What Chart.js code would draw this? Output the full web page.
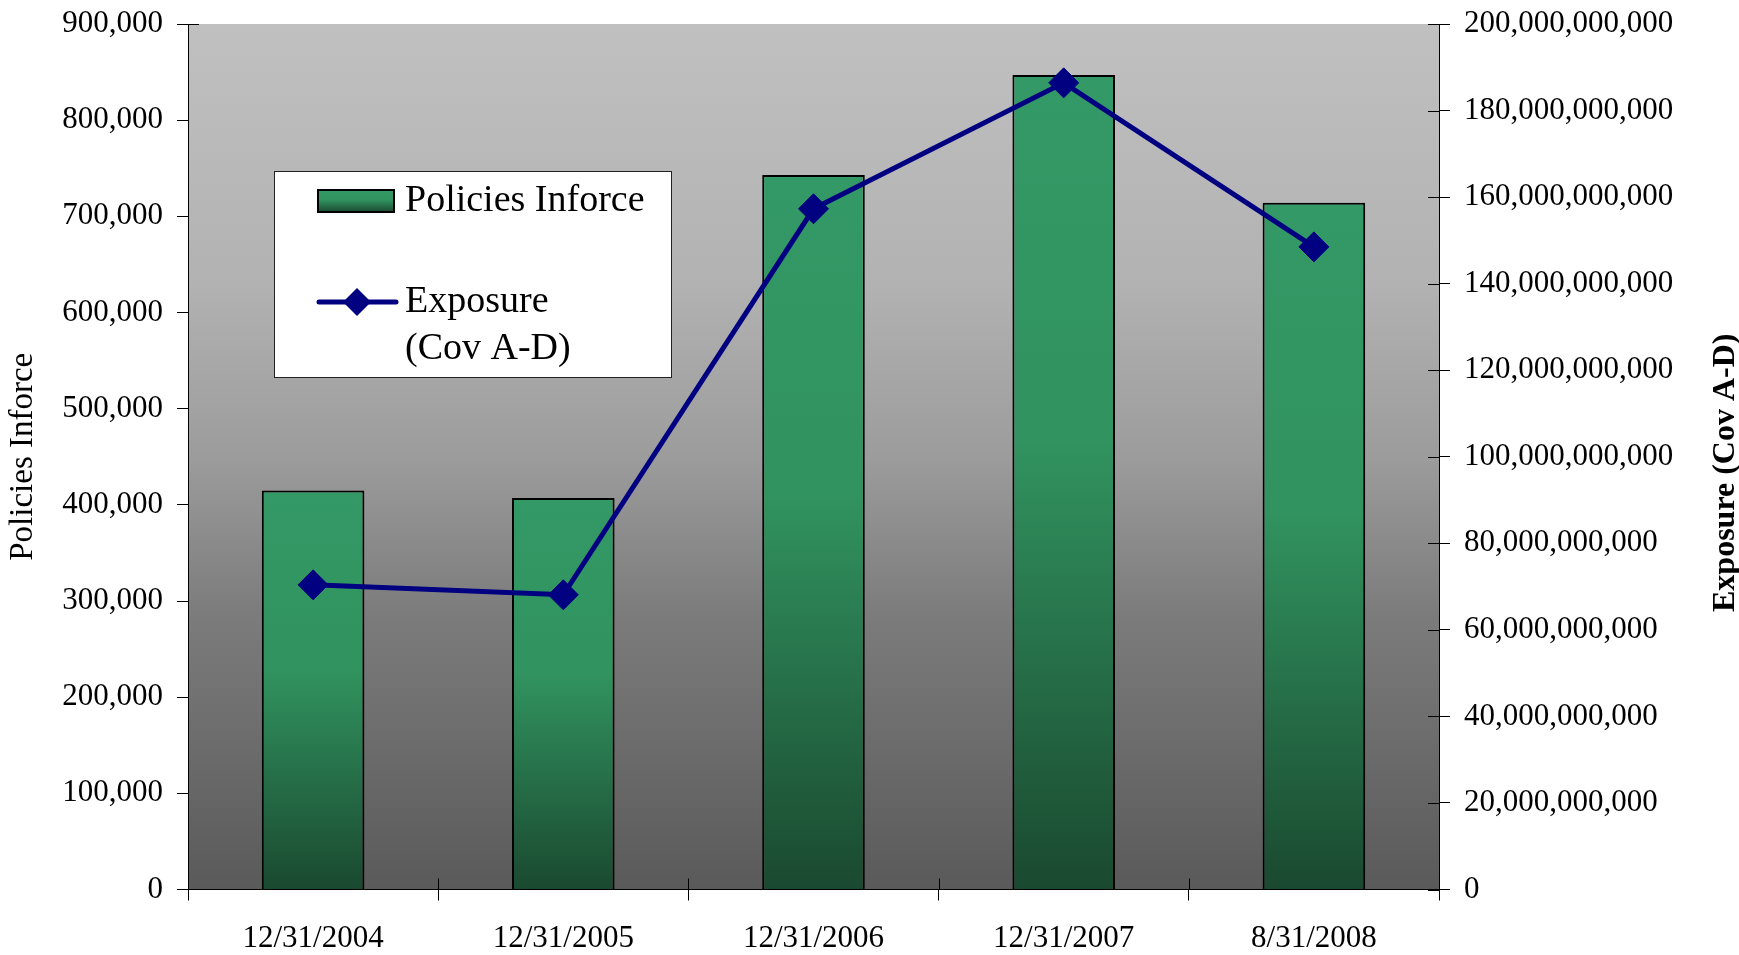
<!DOCTYPE html>
<html>
<head>
<meta charset="utf-8">
<title>Policies Inforce and Exposure</title>
<script src="https://cdn.jsdelivr.net/npm/chart.js@4.4.0/dist/chart.umd.min.js"></script>
<style>
  html, body { margin: 0; padding: 0; background: #ffffff; }
  canvas { display: block; }
</style>
</head>
<body>
<canvas id="policyChart" width="1739" height="955"></canvas>
<script>
// reporting dates
const periods = ['12/31/2004', '12/31/2005', '12/31/2006', '12/31/2007', '8/31/2008'];
// number of policies in force (left axis)
const policiesInforce = [415000, 407000, 743000, 847000, 714000];
// total exposure, Cov A-D, in dollars (right axis)
const exposureCovAD = [70.4e9, 68.1e9, 157.3e9, 186.4e9, 148.5e9];

const POLICIES_LABEL = 'Policies Inforce';
const EXPOSURE_LABEL = 'Exposure (Cov A-D)';

const SERIF = 'Liberation Serif, Times New Roman, serif';
const BAR_TOP = '#339966';
const BAR_BOTTOM = '#1a4930';
const LINE_COLOR = '#000080';

function fillGreen(ctx, top, bottom) {
    var g = ctx.createLinearGradient(0, top, 0, bottom);
    g.addColorStop(0, BAR_TOP);
    g.addColorStop(0.45, '#31935f');
    g.addColorStop(1, BAR_BOTTOM);
    return g;
}

// each bar gets its own top-to-bottom shading
function barFill(context) {
    var chart = context.chart;
    if (!chart.chartArea || context.type !== 'data') {
        return BAR_TOP;
    }
    var y = chart.scales.y;
    return fillGreen(chart.ctx, y.getPixelForValue(context.raw), y.getPixelForValue(0));
}

// keep the plot area where the fixed axis widths put it
function fixAxisWidth(width) {
    return function (scale) {
        scale.width = width;
        scale.paddingTop = 0;
        scale.paddingBottom = 0;
    };
}

var plotBackground = {
    id: 'plotBackground',
    beforeDraw: function (chart) {
        var ctx = chart.ctx, a = chart.chartArea;
        var g = ctx.createLinearGradient(0, a.top, 0, a.bottom);
        g.addColorStop(0, '#c0c0c0');
        g.addColorStop(0.3, '#b2b2b2');
        g.addColorStop(0.5, '#9c9c9c');
        g.addColorStop(0.68, '#7c7c7c');
        g.addColorStop(1, '#5a5a5a');
        ctx.save();
        ctx.fillStyle = g;
        ctx.fillRect(a.left, a.top, a.width, a.height);
        ctx.restore();
    }
};

// tick marks that also reach into the plot (x axis and right axis)
var innerTicks = {
    id: 'innerTicks',
    afterDraw: function (chart) {
        var ctx = chart.ctx, x = chart.scales.x, y = chart.scales.y, y2 = chart.scales.y2;
        var len = 11;
        ctx.save();
        ctx.strokeStyle = '#000';
        ctx.lineWidth = 1;
        ctx.beginPath();
        for (var i = 0; i <= periods.length; i++) {
            var px = Math.round(x.getPixelForValue(i - 0.5)) + 0.5;
            ctx.moveTo(px, x.top);
            ctx.lineTo(px, x.top - len);
        }
        y2.ticks.forEach(function (t) {
            var py = Math.round(y2.getPixelForValue(t.value)) + 0.5;
            ctx.moveTo(y2.left, py);
            ctx.lineTo(y2.left - len, py);
        });
        var topY = Math.round(y.getPixelForValue(y.max)) + 0.5;
        ctx.moveTo(y.right, topY);
        ctx.lineTo(y.right + len, topY);
        ctx.stroke();
        ctx.restore();
    }
};

// right axis title reads bottom-to-top
var rightTitle = {
    id: 'rightTitle',
    afterDraw: function (chart) {
        var ctx = chart.ctx, a = chart.chartArea;
        ctx.save();
        ctx.translate(1734, (a.top + a.bottom) / 2 + 16);
        ctx.rotate(-Math.PI / 2);
        ctx.font = 'bold 32px ' + SERIF;
        ctx.fillStyle = '#000';
        ctx.textAlign = 'center';
        ctx.textBaseline = 'alphabetic';
        ctx.fillText(EXPOSURE_LABEL, 0, 0);
        ctx.restore();
    }
};

var boxLegend = {
    id: 'boxLegend',
    afterDraw: function (chart) {
        var ctx = chart.ctx;
        var lineSet = chart.data.datasets[0];
        var barSet = chart.data.datasets[1];
        ctx.save();
        ctx.fillStyle = '#ffffff';
        ctx.fillRect(274, 171, 397, 206);
        ctx.strokeStyle = '#222';
        ctx.lineWidth = 1;
        ctx.strokeRect(274.5, 171.5, 397, 206);

        // bar swatch
        ctx.fillStyle = fillGreen(ctx, 190, 212);
        ctx.fillRect(318, 190, 76, 22);
        ctx.strokeStyle = '#000';
        ctx.lineWidth = 2;
        ctx.strokeRect(318, 190, 76, 22);

        // line swatch with marker
        ctx.strokeStyle = LINE_COLOR;
        ctx.lineWidth = 5;
        ctx.lineCap = 'round';
        ctx.beginPath();
        ctx.moveTo(319, 302);
        ctx.lineTo(396, 302);
        ctx.stroke();
        ctx.fillStyle = LINE_COLOR;
        ctx.beginPath();
        ctx.moveTo(357, 288);
        ctx.lineTo(371, 302);
        ctx.lineTo(357, 316);
        ctx.lineTo(343, 302);
        ctx.closePath();
        ctx.fill();

        ctx.fillStyle = '#000';
        ctx.font = '38px ' + SERIF;
        ctx.textAlign = 'left';
        ctx.textBaseline = 'alphabetic';
        ctx.fillText(barSet.label, 405, 211);
        var parts = lineSet.label.split(' (');
        ctx.fillText(parts[0], 405, 312);
        ctx.fillText('(' + parts[1], 405, 359);
        ctx.restore();
    }
};

var ctx = document.getElementById('policyChart');

var chart = new Chart(ctx, {
    type: 'bar',
    data: {
        labels: periods,
        datasets: [
            {
                type: 'line',
                label: EXPOSURE_LABEL,
                data: exposureCovAD,
                yAxisID: 'y2',
                order: 1,
                borderColor: LINE_COLOR,
                backgroundColor: LINE_COLOR,
                borderWidth: 5,
                pointStyle: 'rectRot',
                pointRadius: 15,
                pointBorderWidth: 1,
                pointBackgroundColor: LINE_COLOR,
                pointBorderColor: LINE_COLOR,
                tension: 0,
                fill: false
            },
            {
                type: 'bar',
                label: POLICIES_LABEL,
                data: policiesInforce,
                yAxisID: 'y',
                order: 2,
                backgroundColor: barFill,
                borderColor: '#000',
                borderWidth: 2,
                categoryPercentage: 1,
                barPercentage: 0.41
            }
        ]
    },
    options: {
        responsive: false,
        animation: false,
        devicePixelRatio: 1,
        events: [],
        layout: { padding: { top: 24, left: 0, right: 0, bottom: 0 } },
        plugins: {
            legend: { display: false },
            tooltip: { enabled: false }
        },
        scales: {
            x: {
                offset: true,
                grid: {
                    offset: true,
                    drawOnChartArea: false,
                    drawTicks: true,
                    tickLength: 11,
                    color: '#000'
                },
                border: { display: true, color: '#000', width: 1 },
                ticks: {
                    color: '#000',
                    padding: 20,
                    maxRotation: 0,
                    font: { family: SERIF, size: 31 }
                },
                afterFit: function (scale) { scale.height = 65.5; }
            },
            y: {
                position: 'left',
                min: 0,
                max: 900000,
                grid: {
                    drawOnChartArea: false,
                    drawTicks: true,
                    tickLength: 11,
                    color: '#000'
                },
                border: { display: true, color: '#000', width: 1 },
                ticks: {
                    stepSize: 100000,
                    color: '#000',
                    padding: 14,
                    font: { family: SERIF, size: 31 },
                    callback: function (v) { return v.toLocaleString('en-US'); }
                },
                title: {
                    display: true,
                    text: POLICIES_LABEL,
                    color: '#000',
                    font: { family: SERIF, size: 33 },
                    padding: { top: 4, bottom: 0 }
                },
                afterFit: fixAxisWidth(188)
            },
            y2: {
                position: 'right',
                min: 0,
                max: 200e9,
                grid: {
                    drawOnChartArea: false,
                    drawTicks: true,
                    tickLength: 11,
                    color: '#000'
                },
                border: { display: true, color: '#000', width: 1 },
                ticks: {
                    stepSize: 20e9,
                    color: '#000',
                    padding: 14,
                    font: { family: SERIF, size: 31 },
                    callback: function (v) { return v.toLocaleString('en-US'); }
                },
                afterFit: fixAxisWidth(300)
            }
        }
    },
    plugins: [plotBackground, innerTicks, rightTitle, boxLegend]
});
</script>
</body>
</html>
